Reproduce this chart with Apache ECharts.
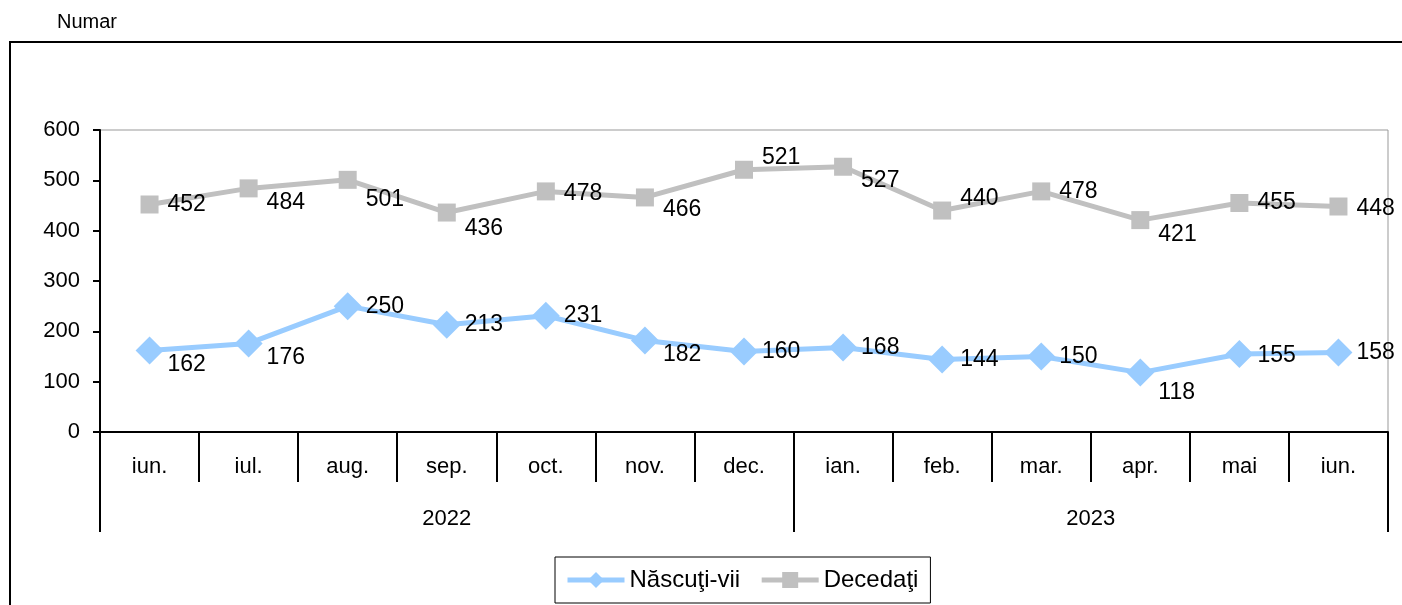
<!DOCTYPE html>
<html><head><meta charset="utf-8">
<script src="https://cdn.jsdelivr.net/npm/echarts@6/dist/echarts.min.js"></script>
<style>html,body{margin:0;padding:0;background:#fff}#c{width:1402px;height:605px}</style>
</head><body><div id="c"></div>
<script>
const months = ['iun.','iul.','aug.','sep.','oct.','nov.','dec.','ian.','feb.','mar.','apr.','mai','iun.'];
const years = ['2022','2023'];
const yearSpans = [7, 6];
const nascuti = [162,176,250,213,231,182,160,168,144,150,118,155,158];
const decedati = [452,484,501,436,478,466,521,527,440,478,421,455,448];
const yTicks = [0,100,200,300,400,500,600];
// label vertical offsets (px) for readability, as in reference
const nascDy = [14,14,0,0,0,14,0,0,0,0,20,2,0];
const decDy = [0,14,20,16,2,12,-12,14,-12,0,15,0,2];

const FONT = 'Liberation Sans, Arial, sans-serif';
function mk(vals, dys){return vals.map((v,i)=>({value:v,label:{offset:[0,dys[i]]}}));}
const yb=[0]; yearSpans.forEach(s=>yb.push(yb[yb.length-1]+s));
const yc=years.map((y,i)=>(yb[i]+yb[i+1])/2);

const chart = echarts.init(document.getElementById('c'));
chart.setOption({
  animation:false,
  textStyle:{fontFamily:FONT},
  graphic:[
    {type:'rect',shape:{x:10,y:42,width:1420,height:620},style:{fill:'none',stroke:'#000',lineWidth:2},z:0},
    {type:'text',left:57,top:12,style:{text:'Numar',font:'20px '+FONT,fill:'#000'}}
  ],
  grid:{left:100,right:14,top:130,bottom:173,show:true,borderColor:'#999',borderWidth:1,backgroundColor:'transparent'},
  legend:{left:555,top:557,orient:'horizontal',borderColor:'#000',borderWidth:1,padding:[11,12,11,10],
    itemWidth:57,itemHeight:20,itemGap:19,lineStyle:{width:5},
    textStyle:{fontSize:24,color:'#000',fontFamily:FONT},
    data:['Născuţi-vii','Decedaţi']},
  xAxis:[
    {type:'category',data:months,boundaryGap:true,
     axisLine:{lineStyle:{color:'#000',width:2}},
     axisTick:{show:true,interval:0,length:50,lineStyle:{color:'#000',width:2}},
     axisLabel:{interval:0,margin:24,fontSize:22,color:'#000',fontFamily:FONT}},
    {type:'value',min:0,max:months.length,position:'bottom',
     axisLine:{show:false},splitLine:{show:false},
     axisTick:{show:true,customValues:yb,length:100,lineStyle:{color:'#000',width:2}},
     axisLabel:{customValues:yc,margin:76,fontSize:22,color:'#000',fontFamily:FONT,
       formatter:(v)=>{const i=yc.indexOf(v);return i>=0?years[i]:'';}}}
  ],
  yAxis:{type:'value',min:0,max:600,interval:100,
    axisLine:{show:true,lineStyle:{color:'#000',width:2}},
    axisTick:{show:true,length:7,lineStyle:{color:'#000',width:2}},
    splitLine:{show:false},
    axisLabel:{margin:20,fontSize:22,color:'#000',fontFamily:FONT,customValues:yTicks}},
  series:[
    {name:'Născuţi-vii',type:'line',data:mk(nascuti,nascDy),xAxisIndex:0,
     symbol:'diamond',symbolSize:28,lineStyle:{color:'#99ccff',width:5},itemStyle:{color:'#99ccff'},
     label:{show:true,position:'right',distance:4,fontSize:23,color:'#000',fontFamily:FONT},z:3},
    {name:'Decedaţi',type:'line',data:mk(decedati,decDy),xAxisIndex:0,
     symbol:'rect',symbolSize:18,lineStyle:{color:'#c0c0c0',width:5},itemStyle:{color:'#c0c0c0'},
     label:{show:true,position:'right',distance:9,fontSize:23,color:'#000',fontFamily:FONT},z:3}
  ]
});
</script></body></html>
